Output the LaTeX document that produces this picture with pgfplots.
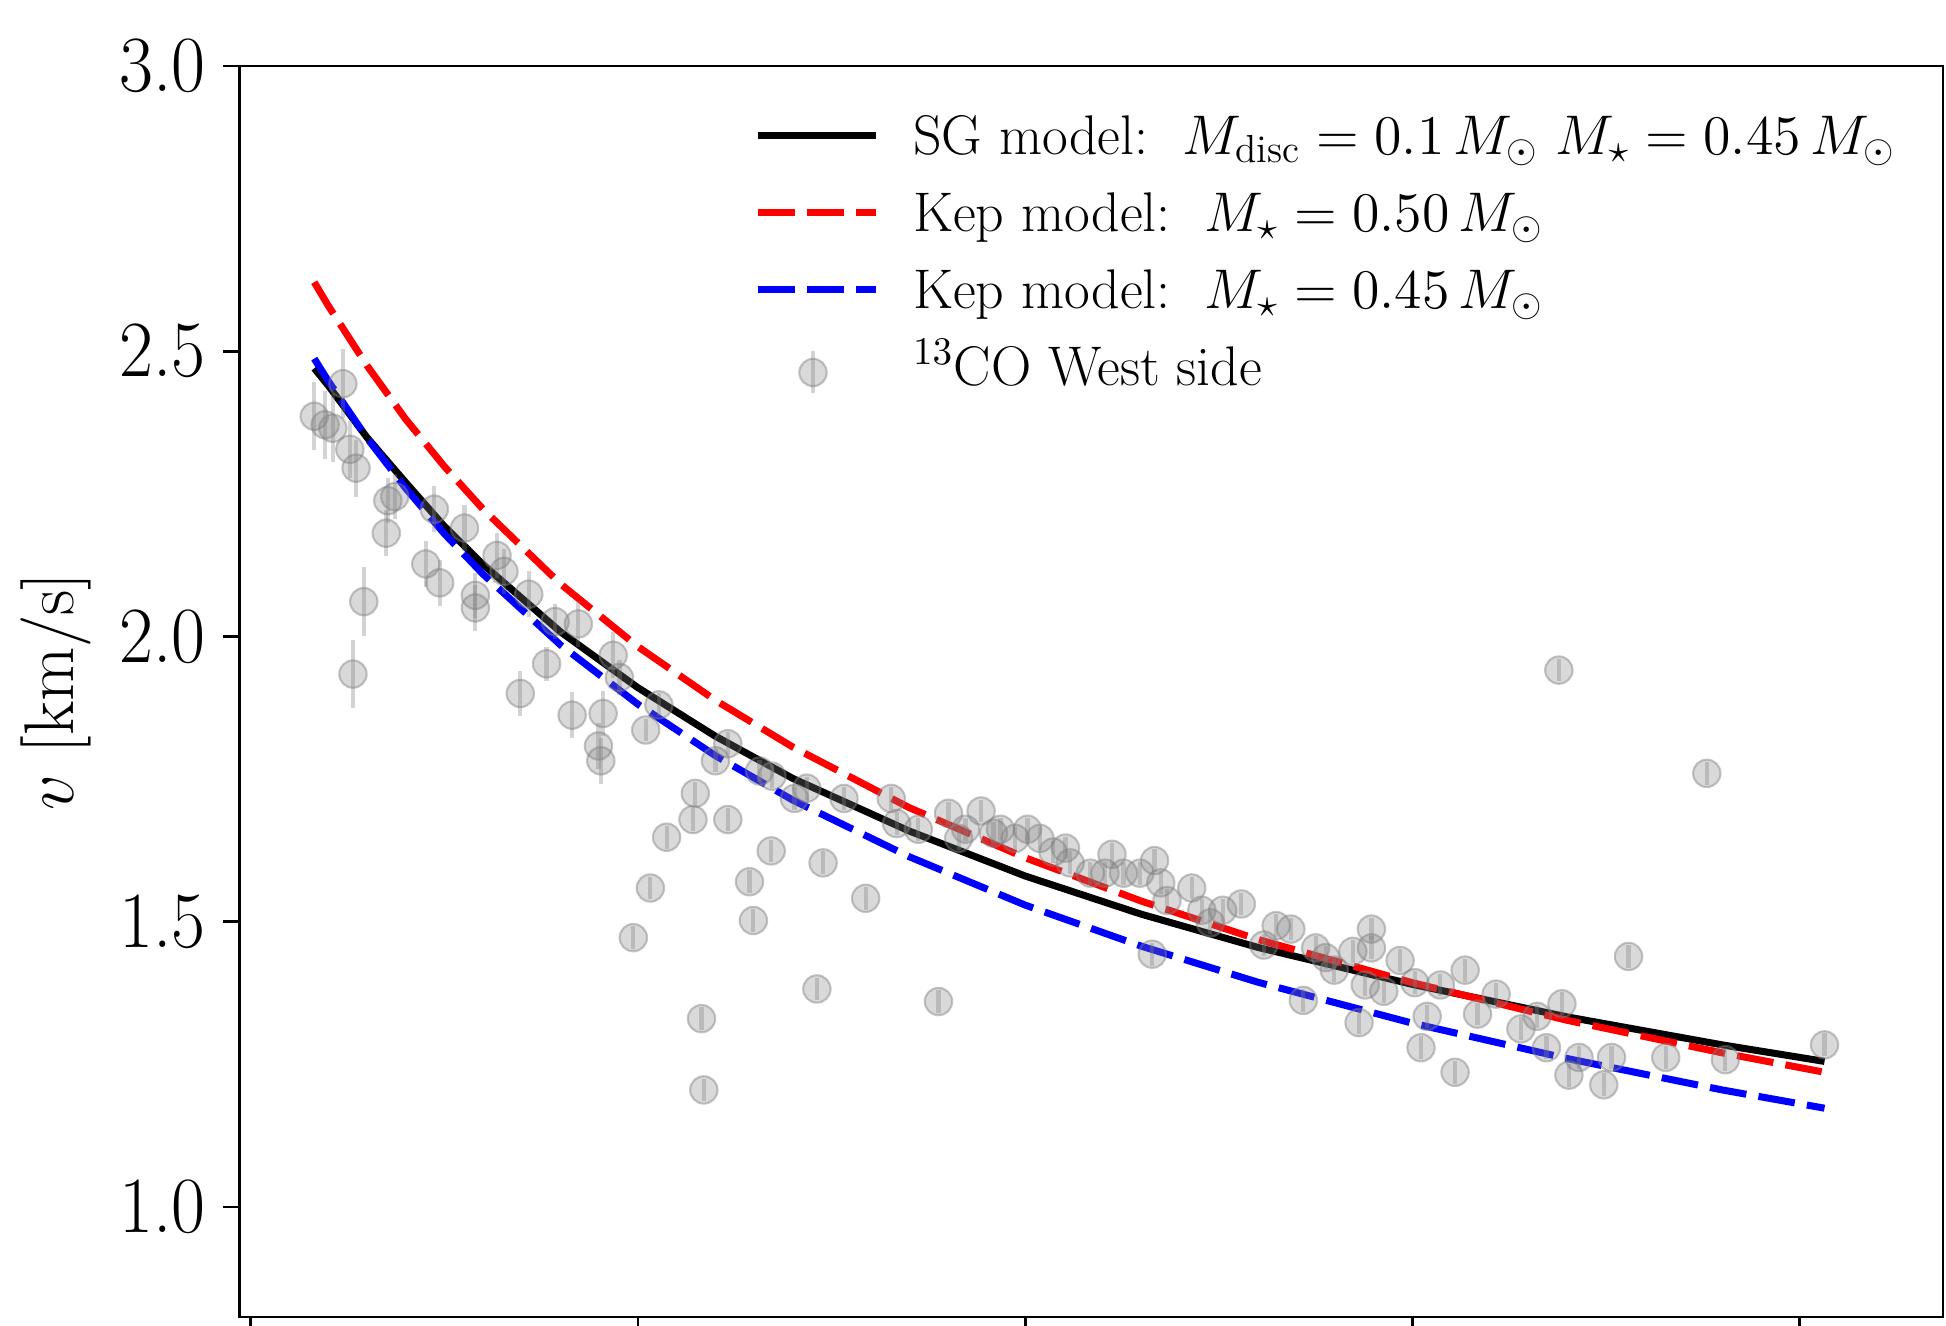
\RequirePackage{fix-cm}
\documentclass[border=0pt]{standalone}
\usepackage{fontspec}
\usepackage{pgfplots}
\usepackage{pgfplotstable}
\pgfplotsset{compat=1.18}

\pgfplotstableread{
r v e
58.2 2.386 0.06
59.6 2.371 0.06
60.6 2.365 0.06
61.9 2.443 0.06
62.8 2.328 0.05
63.6 2.295 0.05
64.6 2.061 0.06
63.2 1.934 0.06
67.7 2.238 0.04
68.6 2.245 0.04
67.5 2.181 0.04
72.6 2.127 0.04
73.7 2.223 0.04
74.4 2.094 0.04
77.6 2.190 0.04
79.0 2.050 0.04
79.0 2.072 0.04
81.8 2.142 0.04
82.7 2.114 0.04
84.8 1.900 0.04
85.9 2.074 0.04
88.2 1.952 0.03
89.3 2.026 0.03
91.5 1.862 0.04
92.3 2.022 0.04
94.9 1.808 0.04
95.2 1.782 0.04
95.5 1.865 0.04
96.8 1.967 0.04
97.6 1.928 0.03
99.4 1.472 0.02
101.6 1.559 0.02
101.0 1.836 0.02
102.7 1.880 0.02
103.7 1.648 0.02
107.4 1.725 0.02
107.1 1.679 0.02
108.2 1.330 0.02
108.5 1.205 0.02
110.0 1.782 0.02
111.6 1.812 0.02
111.6 1.679 0.02
114.4 1.570 0.02
114.9 1.502 0.02
117.2 1.624 0.02
115.7 1.764 0.02
117.3 1.755 0.02
120.2 1.716 0.02
121.8 1.734 0.02
123.1 1.382 0.02
123.9 1.603 0.02
126.6 1.716 0.02
129.4 1.541 0.02
132.7 1.716 0.02
133.4 1.672 0.02
136.2 1.662 0.02
138.8 1.360 0.02
140.1 1.690 0.02
141.4 1.646 0.02
142.3 1.662 0.02
144.3 1.694 0.02
145.9 1.655 0.02
146.8 1.662 0.02
148.7 1.646 0.02
150.3 1.662 0.02
151.9 1.646 0.02
153.6 1.622 0.02
155.2 1.629 0.02
155.8 1.603 0.02
158.4 1.585 0.02
160.3 1.585 0.02
161.2 1.618 0.02
162.7 1.585 0.02
164.8 1.585 0.02
166.7 1.607 0.02
167.5 1.568 0.02
166.4 1.443 0.02
168.3 1.537 0.02
171.5 1.559 0.02
172.8 1.520 0.02
173.9 1.498 0.02
175.5 1.520 0.02
177.9 1.531 0.02
180.8 1.459 0.02
182.4 1.493 0.02
184.3 1.487 0.02
185.9 1.362 0.02
187.5 1.454 0.02
188.8 1.437 0.02
189.9 1.415 0.02
192.3 1.448 0.02
193.1 1.323 0.02
193.9 1.389 0.02
194.7 1.487 0.02
194.7 1.454 0.02
196.3 1.378 0.02
198.4 1.432 0.02
200.3 1.393 0.02
201.1 1.279 0.02
201.9 1.334 0.02
203.6 1.389 0.02
205.5 1.236 0.02
206.8 1.415 0.02
208.4 1.338 0.02
210.8 1.373 0.02
214.0 1.312 0.02
216.1 1.334 0.02
217.3 1.279 0.02
219.3 1.356 0.02
218.9 1.941 0.02
220.2 1.231 0.02
221.5 1.262 0.02
224.7 1.214 0.02
225.7 1.262 0.02
227.9 1.439 0.02
232.7 1.262 0.02
238.0 1.760 0.02
240.4 1.258 0.02
253.2 1.284 0.02
}\obs

\begin{document}
\begin{tikzpicture}
\begin{axis}[
  at={(0,0)}, anchor=south west,
  scale only axis, width=17.035cm, height=12.51cm,
  xmin=48.55, xmax=268.5, ymin=0.807, ymax=3.0,
  xtick={50,100,150,200,250}, xticklabels={},
  ytick={1.0,1.5,2.0,2.5,3.0},
  yticklabels={1.0,1.5,2.0,2.5,3.0},
  yticklabel style={font=\fontsize{21}{25}\selectfont, inner sep=0pt, anchor=east, xshift=-0.17cm, yscale=1.08},
  tick align=outside, major tick length=0.16cm,
  xtick pos=bottom, ytick pos=left,
  every tick/.style={black, line width=0.75pt},
  axis line style={line width=0.75pt},
  ylabel={$v$ [km/s]},
  every axis y label/.style={at={(axis description cs:-0.1077,0.5)}, rotate=90, anchor=center, font=\fontsize{20}{24}\selectfont},
  legend image code/.code={\draw[#1] (0cm,0cm) -- (1.18cm,0cm);},
  legend cell align=left,
  legend style={at={(axis description cs:0.3023,0.9752)}, anchor=north west,
    draw=none, fill=none, inner sep=0pt, outer sep=0pt,
    row sep=0pt, column sep=0.335cm,
    font=\fontsize{15.9}{18}\selectfont,
    cells={anchor=west},
    nodes={inner sep=0pt, text height=0.571cm, text depth=0.199cm}},
]
\addplot[black, line width=2pt] coordinates {
(58.2,2.470) (60,2.440) (65,2.349) (70,2.270) (75,2.193) (80,2.126) (90,2.008)
(100,1.910) (110,1.825) (120,1.751) (135,1.659) (150,1.580) (165,1.513)
(180,1.455) (200,1.390) (220,1.333) (240,1.284) (253.2,1.255)};
\addlegendentry{SG model:\ \ $M_{\rm disc} = 0.1\,M_\odot\ M_\star = 0.45\,M_\odot$}
\addplot[red, line width=2pt, dash pattern=on 10.5pt off 3.5pt] coordinates {
(58.2,2.621) (60,2.580) (65,2.475) (70,2.381) (75,2.298) (80,2.223) (90,2.092)
(100,1.982) (110,1.888) (120,1.806) (135,1.700) (150,1.612) (165,1.536)
(180,1.469) (200,1.393) (220,1.327) (240,1.270) (253.2,1.236)};
\addlegendentry{Kep model:\ \ $M_\star = 0.50\,M_\odot$}
\addplot[blue, line width=2pt, dash pattern=on 10.5pt off 3.5pt] coordinates {
(58.2,2.487) (60,2.448) (65,2.348) (70,2.260) (75,2.180) (80,2.109) (90,1.985)
(100,1.881) (110,1.791) (120,1.713) (135,1.614) (150,1.529) (165,1.457)
(180,1.394) (200,1.322) (220,1.260) (240,1.205) (253.2,1.173)};
\addlegendentry{Kep model:\ \ $M_\star = 0.45\,M_\odot$}
\addplot[only marks, mark=*, mark size=3.9pt,
  mark options={draw=gray, fill=gray, draw opacity=0.45, fill opacity=0.3, line width=0.6pt},
  legend image code/.code={
    \draw[gray, opacity=0.35, line width=1.2pt] (0.55cm,-0.27cm) -- (0.55cm,0.15cm);
    \path[fill=gray, fill opacity=0.3, draw=gray, draw opacity=0.45, line width=0.6pt] (0.55cm,-0.06cm) circle (3.9pt);
    \path (0cm,0cm) (1.18cm,0cm);},
  error bars/.cd, y dir=both, y explicit, error mark=none,
  error bar style={gray, opacity=0.35, line width=1.2pt}]
  table[x=r, y=v, y error=e] {\obs};
\addlegendentry{$^{13}$CO West side}
\end{axis}
\pgfresetboundingbox
\useasboundingbox (-2.395cm,-0.09cm) rectangle (17.065cm,13.17cm);
\end{tikzpicture}
\end{document}
